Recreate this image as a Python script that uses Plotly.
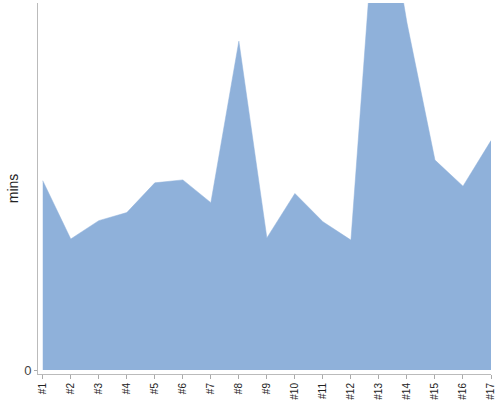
import plotly.graph_objects as go

# Data
labels = ["#1", "#2", "#3", "#4", "#5", "#6", "#7", "#8", "#9",
          "#10", "#11", "#12", "#13", "#14", "#15", "#16", "#17"]
mins = [51.6, 35.7, 40.7, 42.9, 51.0, 51.8, 45.6, 89.6, 36.0,
        48.1, 40.4, 35.4, 139.8, 94.6, 57.2, 50.1, 62.5]

x_idx = list(range(len(labels)))

fig = go.Figure()

fig.add_trace(go.Scatter(
    x=x_idx,
    y=mins,
    mode="lines",
    fill="tozeroy",
    fillcolor="rgb(143,177,218)",
    line=dict(color="rgb(143,177,218)", width=0.5),
    hoverinfo="x+y",
    showlegend=False,
))

fig.update_layout(
    width=500,
    height=400,
    margin=dict(l=38, r=9, t=3, b=26, autoexpand=False),
    plot_bgcolor="white",
    paper_bgcolor="white",
    font=dict(family="Liberation Sans, Arial, sans-serif", color="#333"),
    xaxis=dict(
        range=[-0.17, 16.0],
        tickvals=x_idx,
        ticktext=labels,
        tickangle=-90,
        tickfont=dict(size=10, color="#222"),
        ticks="outside",
        ticklen=4,
        tickcolor="#aaa",
        showline=True,
        linecolor="#bbb",
        linewidth=1,
        showgrid=False,
        zeroline=False,
        automargin=False,
        fixedrange=True,
    ),
    yaxis=dict(
        range=[-1.09, 100],
        tickvals=[0],
        ticktext=["0"],
        tickfont=dict(size=13, color="#444"),
        ticks="outside",
        ticklen=3,
        tickcolor="#aaa",
        showline=True,
        linecolor="#bbb",
        linewidth=1,
        showgrid=False,
        zeroline=False,
        automargin=False,
        title=dict(text="mins", font=dict(size=14, color="#222"), standoff=2),
        fixedrange=True,
    ),
)

# the page body has a default 8px margin; drop it so the figure sits at 0,0
fig.write_html(
    "out.html",
    config={"displayModeBar": False},
    post_script="document.body.style.margin='0';",
)
